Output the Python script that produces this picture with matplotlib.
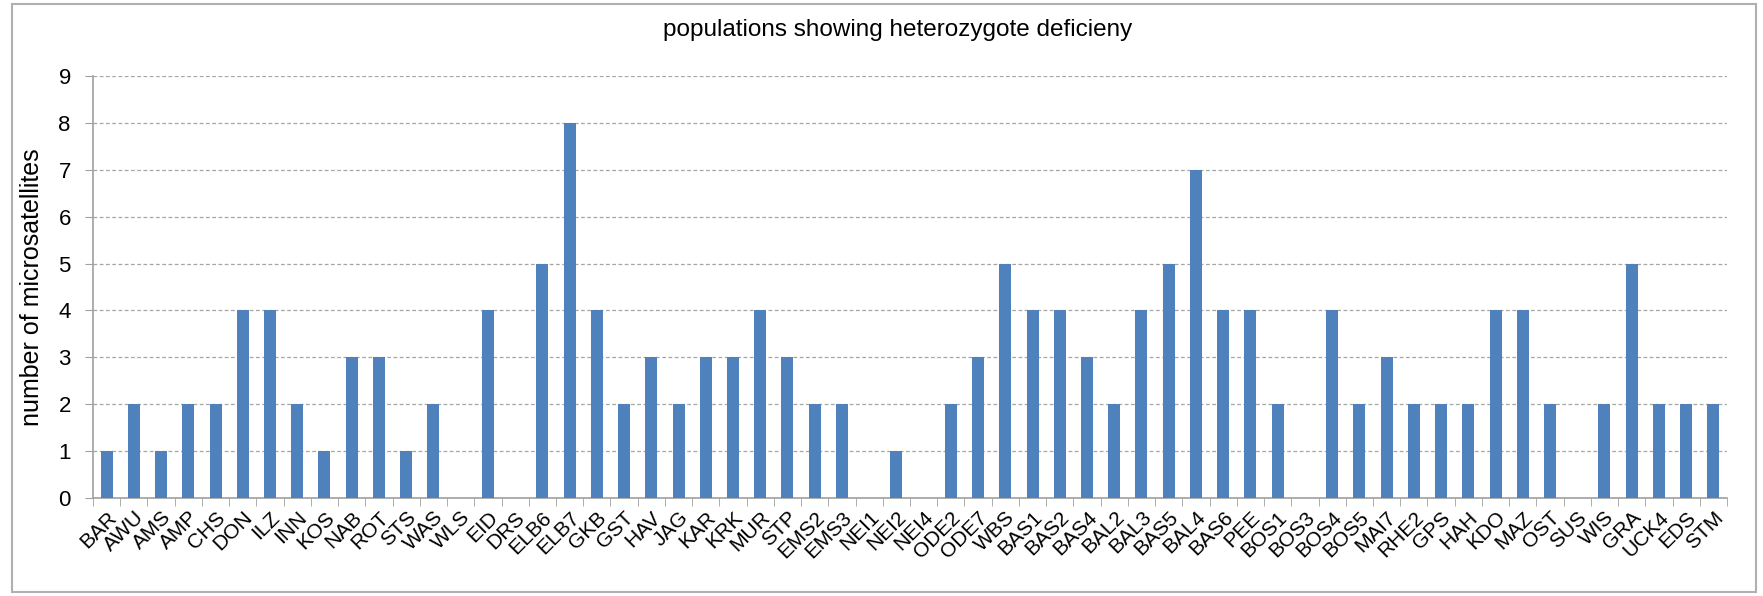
import numpy as np
import matplotlib
matplotlib.use("Agg")
import matplotlib.pyplot as plt
from matplotlib.patches import Rectangle

populations = ["BAR", "AWU", "AMS", "AMP", "CHS", "DON", "ILZ", "INN", "KOS", "NAB",
               "ROT", "STS", "WAS", "WLS", "EID", "DRS", "ELB6", "ELB7", "GKB", "GST",
               "HAV", "JAG", "KAR", "KRK", "MUR", "STP", "EMS2", "EMS3", "NEI1", "NEI2",
               "NEI4", "ODE2", "ODE7", "WBS", "BAS1", "BAS2", "BAS4", "BAL2", "BAL3", "BAS5",
               "BAL4", "BAS6", "PEE", "BOS1", "BOS3", "BOS4", "BOS5", "MAI7", "RHE2", "GPS",
               "HAH", "KDO", "MAZ", "OST", "SUS", "WIS", "GRA", "UCK4", "EDS", "STM"]
n_microsat = [1, 2, 1, 2, 2, 4, 4, 2, 1, 3,
              3, 1, 2, 0, 4, 0, 5, 8, 4, 2,
              3, 2, 3, 3, 4, 3, 2, 2, 0, 1,
              0, 2, 3, 5, 4, 4, 3, 2, 4, 5,
              7, 4, 4, 2, 0, 4, 2, 3, 2, 2,
              2, 4, 4, 2, 0, 2, 5, 2, 2, 2]
y_ticks = list(range(10))

BAR_BLUE = "#4F81BD"
AXIS_GREY = "#A0A0A0"
FONT = "Liberation Sans"

W, H = 1763, 596
fig = plt.figure(figsize=(W / 100, H / 100), dpi=100)
ax = fig.add_axes([93 / W, 1 - 498 / H, (1727 - 93) / W, (498 - 76) / H])

x = np.arange(len(populations))
ax.bar(x, n_microsat, width=0.44, color=BAR_BLUE, zorder=3)

ax.set_xlim(-0.5, len(populations) - 0.5)
ax.set_ylim(0, 9)
ax.set_yticks(y_ticks)
ax.set_xticks(x)
ax.set_xticklabels(populations, rotation=45, ha="right", rotation_mode="anchor",
                   fontsize=15, family=FONT)
ax.set_xticks(np.arange(-0.5, len(populations)), minor=True)
ax.tick_params(axis="x", which="major", length=0, pad=7)
ax.tick_params(axis="x", which="minor", length=6, color=AXIS_GREY, direction="out")
ax.tick_params(axis="y", length=6, color=AXIS_GREY, labelsize=16, pad=10)
for lab in ax.get_yticklabels():
    lab.set_family(FONT)

ax.yaxis.grid(True, ls=(0, (3, 2)), color="#A6A6A6", lw=0.9, zorder=0)
for s in ("top", "right"):
    ax.spines[s].set_visible(False)
for s in ("left", "bottom"):
    ax.spines[s].set_color(AXIS_GREY)
    ax.spines[s].set_linewidth(1.2)

ax.set_ylabel("number of microsatellites", fontsize=18, family=FONT, labelpad=10)
fig.text(898 / W, 1 - 30 / H, "populations showing heterozygote deficieny",
         fontsize=17.5, ha="center", va="center", family=FONT)

# light frame round the whole chart
fig.patches.append(Rectangle((12 / W, 4 / H), (1756 - 12) / W, (592 - 4) / H,
                             transform=fig.transFigure, fill=False,
                             edgecolor="#B0B0B0", lw=1.5))

fig.savefig("out.png", dpi=100)
